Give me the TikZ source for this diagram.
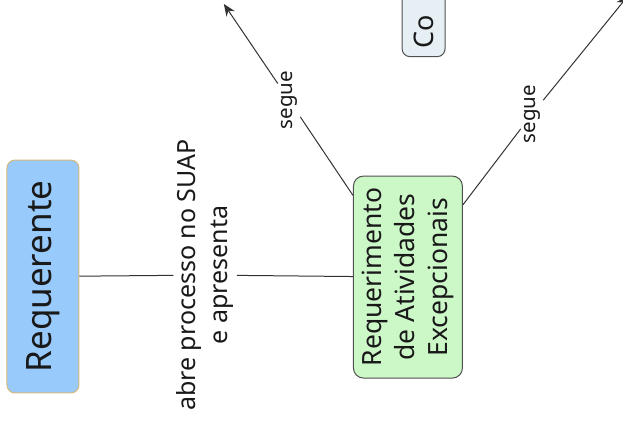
\documentclass[tikz,border=0pt]{standalone}
\usepackage{fontspec}
\setmainfont{Noto Sans}
\usepackage{xcolor}
\usepackage{tikz}
\usetikzlibrary{arrows.meta}
\usetikzlibrary{positioning}

\definecolor{reqblue}{RGB}{153,202,252}
\definecolor{reqborder}{RGB}{214,184,124}
\definecolor{raegreen}{RGB}{204,248,200}
\definecolor{raeborder}{RGB}{80,80,80}
\definecolor{cofill}{RGB}{230,240,244}
\definecolor{linegray}{RGB}{50,50,50}
\definecolor{textgray}{RGB}{25,25,25}

\begin{document}
\begin{tikzpicture}[
        concept/.style={draw,rounded corners=8pt,line width=1pt,rotate=90,align=center,text=textgray},
        linkword/.style={fill=white,rotate=90,align=center,inner sep=3pt,text=textgray},
        conn/.style={draw=linegray,line width=1pt}]

        \useasboundingbox (0,0) rectangle (21.9,14.87);

        \node[concept,fill=reqblue,draw=reqborder,minimum width=8.19cm,minimum height=2.53cm,font=\fontsize{35}{42}\selectfont] (req) at (1.51,5.15) {Requerente};
        \node[concept,fill=raegreen,draw=raeborder,rounded corners=10pt,minimum width=7.1cm,minimum height=3.83cm,font=\fontsize{26.5}{33}\selectfont] (rae) at (14.34,5.13) {Requerimento\\de Atividades\\Excepcionais};
        \node[concept,fill=cofill,draw=raeborder,anchor=west,minimum height=1.51cm,text width=2.6cm,align=left,inner xsep=8pt,font=\fontsize{27}{32}\selectfont] (coo) at (14.89,12.86) {Co};

        \node[linkword,font=\fontsize{25}{32}\selectfont] (lab1) at (7.21,5.20) {abre processo no SUAP\\e apresenta};
        \node[linkword,font=\fontsize{20.5}{24}\selectfont] (seg1) at (10.16,11.35) {segue};
        \node[linkword,font=\fontsize{20.5}{24}\selectfont] (seg2) at (18.70,10.86) {segue};

        \coordinate (tip1) at (7.87,14.73);
        \coordinate (tip2) at (22.07,15.01);

        \draw[conn] (req) -- (lab1);
        \draw[conn] (lab1) -- (rae);

        \draw[conn] (rae) -- (seg1);
        \draw[conn,-{Stealth[length=12pt,width=10pt]}] (seg1) -- (tip1);

        \draw[conn] (rae) -- (seg2);
        \draw[conn,-{Stealth[length=12pt,width=10pt]}] (seg2) -- (tip2);

    \end{tikzpicture}
\end{document}
